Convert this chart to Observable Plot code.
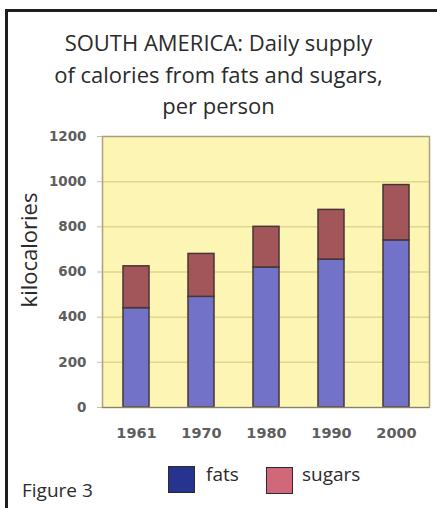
<!DOCTYPE html>
<html>
<head>
<meta charset="utf-8">
<script src="https://cdn.jsdelivr.net/npm/d3@7"></script>
<script src="https://cdn.jsdelivr.net/npm/@observablehq/plot@0.6"></script>
<style>
  html, body { margin: 0; padding: 0; background: #fff; }
  #page { position: relative; width: 437px; height: 508px; overflow: hidden; background: #fff; }
  #bleft { position: absolute; left: 5px; top: 9px; width: 3px; height: 499px; background: #1e1e1e; }
  #btop { position: absolute; left: 5px; top: 9px; width: 432px; height: 3px; background: #1e1e1e; }
  #title { position: absolute; left: 0; width: 437px; top: 27px; text-align: center;
    font-family: "Open Sans", sans-serif; font-size: 22px; line-height: 31.5px; color: #2b2b2b; }
  #chart { position: absolute; left: 0; top: 120px; }
  #ylab { position: absolute; left: 28px; top: 250px; transform: translate(-50%, -50%) rotate(-90deg);
    font-family: "Open Sans", sans-serif; font-size: 22px; color: #2b2b2b; white-space: nowrap; }
  .sw { position: absolute; width: 25px; height: 25px; border: 1.5px solid #2b2b2b; }
  .lt { position: absolute; font-family: "Open Sans", sans-serif; font-size: 19px; color: #2b2b2b; line-height: 20px; }
</style>
</head>
<body>
<div id="page">
  <div id="bleft"></div>
  <div id="btop"></div>
  <div id="title">SOUTH AMERICA: Daily supply<br>of calories from fats and sugars,<br>per person</div>
  <div id="chart"></div>
  <div id="ylab">kilocalories</div>
  <div class="sw" style="left:168px; top:466px; background:#26338f;"></div>
  <div class="lt" style="left:206px; top:464px;">fats</div>
  <div class="sw" style="left:266px; top:467px; background:#d0687a;"></div>
  <div class="lt" style="left:302px; top:464px;">sugars</div>
  <div class="lt" style="left:22px; top:480px;">Figure 3</div>
</div>
<script>
const years = ["1961", "1970", "1980", "1990", "2000"];
const fats = [440, 490, 620, 655, 740];
const sugars = [185, 190, 180, 220, 245];
const yTicks = [0, 200, 400, 600, 800, 1000, 1200];
const gridTicks = [200, 400, 600, 800, 1000];
const seriesNames = ["fats", "sugars"];
const barColors = ["#7272c9", "#a2565a"];

const rows = [];
years.forEach((y, i) => {
  rows.push({year: y, series: "fats", value: fats[i]});
  rows.push({year: y, series: "sugars", value: sugars[i]});
});

const tickFont = "'DejaVu Sans', Verdana, sans-serif";

const chart = Plot.plot({
  width: 437,
  height: 330,
  marginTop: 16,
  marginBottom: 43,
  marginLeft: 102,
  marginRight: 8,
  style: {background: "transparent", fontFamily: tickFont},
  x: {domain: years, paddingInner: 0.6, paddingOuter: 0.3, label: null},
  y: {domain: [0, 1200], label: null},
  color: {domain: seriesNames, range: barColors},
  marks: [
    Plot.frame({fill: "#fdf5b4", stroke: null}),
    Plot.ruleY(gridTicks, {stroke: "#e2d58c", strokeWidth: 1.5}),
    Plot.axisY(yTicks, {tickSize: 5, tickPadding: 11, stroke: "#c9c0a0", fill: "#5e5e5e",
      fontSize: 13.5, fontWeight: "bold", tickFormat: "d", label: null}),
    Plot.axisX({tickSize: 0, tickPadding: 20, fill: "#5e5e5e", fontSize: 14.5, fontWeight: "bold", label: null}),
    Plot.barY(rows, Plot.stackY({x: "year", y: "value", fill: "series", order: seriesNames,
      stroke: "#463636", strokeWidth: 1.5})),
    Plot.frame({stroke: "#ada07a", strokeWidth: 1.5}),
    Plot.ruleY([0], {stroke: "#8a8070", strokeWidth: 1})
  ]
});
document.getElementById("chart").appendChild(chart);
</script>
</body>
</html>
